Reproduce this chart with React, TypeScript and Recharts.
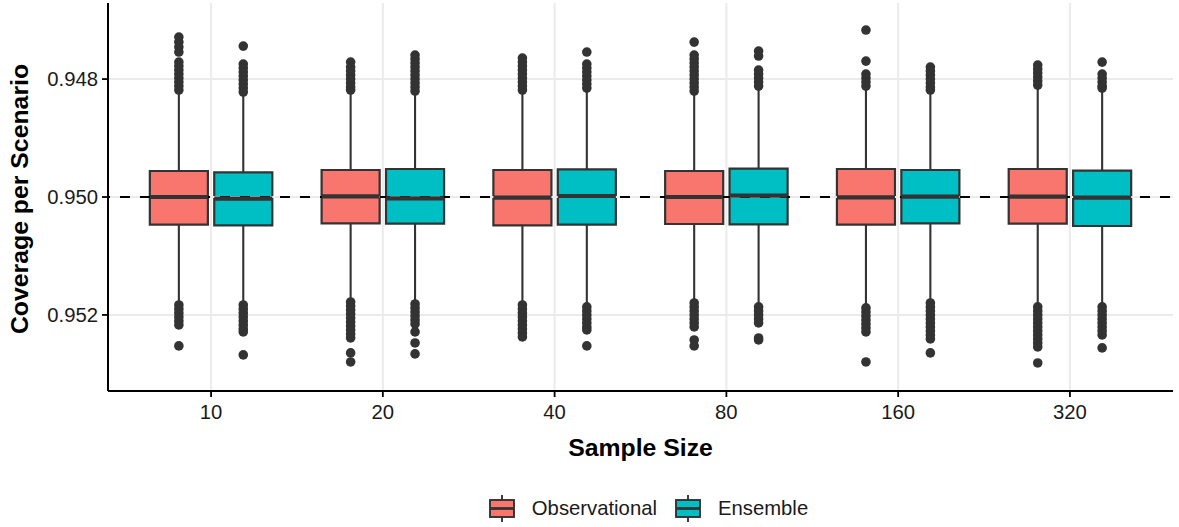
import React from "react";
import {
  ComposedChart,
  XAxis,
  YAxis,
  Scatter,
  ReferenceArea,
  ReferenceLine,
  Legend,
} from "recharts";

const sampleSizes = ["10", "20", "40", "80", "160", "320"];
const methods = ["Observational", "Ensemble"];
const fills = ["#F8766D", "#00BFC4"];
const xTicks = [1, 2, 3, 4, 5, 6];
const yTicks = [0.948, 0.95, 0.952];
const xDomain = [0.4, 6.6];
const yDomain = [0.94671, 0.95329];

// Observational
const obsWhiskerLow = [0.948237, 0.94822, 0.94822, 0.948237, 0.948153, 0.94817];
const obsQ1 = [0.949559, 0.949542, 0.949542, 0.949559, 0.949525, 0.949525];
const obsMedian = [0.95, 0.949988, 0.950012, 0.95, 0.950005, 0.949995];
const obsQ3 = [0.950469, 0.950446, 0.95048, 0.950458, 0.950469, 0.950453];
const obsWhiskerHigh = [0.951792, 0.951746, 0.951802, 0.951775, 0.951859, 0.951831];
const obsOutliers = [
  [0.947288, 0.947373, 0.947458, 0.947542, 0.947712, 0.94778, 0.947847, 0.947915, 0.947983, 0.948051, 0.948119, 0.948186,
    0.951831, 0.951898, 0.951966, 0.952034, 0.952102, 0.952169, 0.952525],
  [0.947712, 0.947797, 0.947864, 0.947932, 0.948, 0.948068, 0.948136, 0.948186,
    0.95178, 0.951847, 0.951915, 0.951983, 0.952051, 0.952119, 0.952186, 0.952254, 0.952322, 0.95239, 0.952644, 0.952797],
  [0.947644, 0.947712, 0.94778, 0.947847, 0.947915, 0.947983, 0.948051, 0.948119, 0.948186,
    0.951831, 0.951898, 0.951966, 0.952034, 0.952102, 0.952169, 0.952237, 0.952305, 0.952373],
  [0.947373, 0.947593, 0.947661, 0.947729, 0.947797, 0.947864, 0.947932, 0.948, 0.948068, 0.948136, 0.948203,
    0.951797, 0.951864, 0.951932, 0.952, 0.952068, 0.952136, 0.952203, 0.952424, 0.952525],
  [0.947169, 0.947695, 0.947915, 0.947983, 0.948051, 0.948119,
    0.951881, 0.951949, 0.952017, 0.952085, 0.952153, 0.95222, 0.952288, 0.952797],
  [0.947763, 0.947831, 0.947898, 0.947966, 0.948034, 0.948102,
    0.951864, 0.951932, 0.952, 0.952068, 0.952136, 0.952203, 0.952271, 0.952339, 0.952407, 0.952475, 0.952542, 0.952814],
];

// Ensemble
const ensWhiskerLow = [0.948271, 0.948237, 0.948186, 0.94817, 0.948203, 0.948186];
const ensQ1 = [0.949581, 0.949525, 0.949531, 0.94952, 0.949542, 0.949554];
const ensMedian = [0.950029, 0.950022, 0.949983, 0.949978, 0.949995, 0.950012];
const ensQ3 = [0.95048, 0.950453, 0.950469, 0.950463, 0.950446, 0.950492];
const ensWhiskerHigh = [0.951792, 0.951792, 0.951831, 0.951831, 0.951775, 0.951831];
const ensOutliers = [
  [0.947441, 0.947746, 0.947814, 0.947881, 0.947949, 0.948017, 0.948085, 0.948153, 0.94822,
    0.951831, 0.951898, 0.951966, 0.952034, 0.952102, 0.952169, 0.952237, 0.952288, 0.952678],
  [0.947593, 0.947661, 0.947729, 0.947797, 0.947864, 0.947932, 0.948, 0.948068, 0.948136, 0.948203,
    0.951814, 0.951881, 0.951949, 0.952017, 0.952085, 0.952153, 0.952288, 0.952475, 0.952661],
  [0.947542, 0.947746, 0.947814, 0.947881, 0.947949, 0.948017, 0.948085, 0.948153,
    0.951864, 0.951932, 0.952, 0.952068, 0.952136, 0.952203, 0.952254, 0.952525],
  [0.947525, 0.94761, 0.947847, 0.947915, 0.947983, 0.948051, 0.948119,
    0.951864, 0.951932, 0.952, 0.952068, 0.952136, 0.95239, 0.952424],
  [0.947797, 0.947864, 0.947932, 0.948, 0.948068, 0.948136, 0.948186,
    0.951797, 0.951864, 0.951932, 0.952, 0.952068, 0.952136, 0.952203, 0.952271, 0.952339, 0.952407, 0.952644],
  [0.947712, 0.947915, 0.947983, 0.948051, 0.948119, 0.948153,
    0.951864, 0.951932, 0.952, 0.952068, 0.952136, 0.952203, 0.952271, 0.952339, 0.952559],
];

const font = "'Liberation Sans', Arial, Helvetica, sans-serif";
const ink = "#333333";
const gridColor = "#EBEBEB";
const DODGE = 0.1875;
const HALF = 0.169;

type Box = {
  key: string;
  x: number;
  fill: string;
  lo: number;
  q1: number;
  med: number;
  q3: number;
  hi: number;
};

const stats = [
  { lo: obsWhiskerLow, q1: obsQ1, med: obsMedian, q3: obsQ3, hi: obsWhiskerHigh, out: obsOutliers },
  { lo: ensWhiskerLow, q1: ensQ1, med: ensMedian, q3: ensQ3, hi: ensWhiskerHigh, out: ensOutliers },
];

const boxes: Box[] = [];
const outlierPoints: { x: number; y: number }[] = [];
stats.forEach((s, m) => {
  sampleSizes.forEach((n, i) => {
    const x = i + 1 + (m === 0 ? -DODGE : DODGE);
    boxes.push({ key: `${m}-${n}`, x, fill: fills[m], lo: s.lo[i], q1: s.q1[i], med: s.med[i], q3: s.q3[i], hi: s.hi[i] });
    s.out[i].forEach((v) => outlierPoints.push({ x, y: v }));
  });
});

function LegendKey({ fill }: { fill: string }) {
  return (
    <svg width={26} height={27} style={{ display: "block" }}>
      <line x1={13} x2={13} y1={0} y2={27} stroke={ink} strokeWidth={1.9} />
      <rect x={1} y={5} width={24} height={17} fill={fill} stroke={ink} strokeWidth={1.9} />
      <line x1={1} x2={25} y1={13.5} y2={13.5} stroke={ink} strokeWidth={2.8} />
    </svg>
  );
}

function LegendContent() {
  return (
    <div
      style={{
        display: "flex",
        justifyContent: "center",
        alignItems: "center",
        height: 36,
        fontFamily: font,
        fontSize: 20.3,
        color: "#1a1a1a",
        paddingLeft: 16,
      }}
    >
      {methods.map((name, m) => (
        <div key={name} style={{ display: "flex", alignItems: "center", marginRight: m === 0 ? 18 : 0 }}>
          <LegendKey fill={fills[m]} />
          <span style={{ marginLeft: 17 }}>{name}</span>
        </div>
      ))}
    </div>
  );
}

const XTitle = (props: any) => {
  const vb = props.viewBox;
  if (!vb) return null;
  return (
    <text x={vb.x + vb.width / 2} y={vb.y + 65} textAnchor="middle" fontFamily={font} fontSize={24.8} fontWeight="bold" fill="#000">
      Sample Size
    </text>
  );
};

const YTitle = (props: any) => {
  const vb = props.viewBox;
  if (!vb) return null;
  const x = vb.x + 28;
  const y = vb.y + vb.height / 2 + 2;
  return (
    <text x={x} y={y} transform={`rotate(-90, ${x}, ${y})`} textAnchor="middle" fontFamily={font} fontSize={24.8} fontWeight="bold" fill="#000">
      Coverage per Scenario
    </text>
  );
};

export default function App() {
  return (
    <div style={{ position: "absolute", left: 0, top: 0, width: 1179, height: 527, background: "#fff" }}>
      <ComposedChart
        width={1179}
        height={527}
        margin={{ top: 3, right: 6, bottom: 1, left: 0 }}
        style={{ fontFamily: font, outline: "none" }}
        accessibilityLayer={false}
      >
        {xTicks.map((t) => (
          <ReferenceLine key={`gx-${t}`} x={t} stroke={gridColor} strokeWidth={2} />
        ))}
        {yTicks.map((t) => (
          <ReferenceLine key={`gy-${t}`} y={t} stroke={gridColor} strokeWidth={2} />
        ))}
        <XAxis
          type="number"
          dataKey="x"
          domain={xDomain}
          ticks={xTicks}
          tickFormatter={(v: number) => sampleSizes[v - 1] ?? ""}
          height={99}
          tickSize={6}
          tickMargin={8}
          axisLine={{ stroke: "#000", strokeWidth: 2 }}
          tickLine={{ stroke: "#000", strokeWidth: 1.8 }}
          tick={{ fontSize: 20.3, fill: "#1a1a1a", fontFamily: font }}
          label={<XTitle />}
        />
        <YAxis
          type="number"
          dataKey="y"
          domain={yDomain}
          reversed
          ticks={yTicks}
          tickFormatter={(v: number) => v.toFixed(3)}
          width={108}
          tickSize={6}
          tickMargin={4}
          axisLine={{ stroke: "#000", strokeWidth: 2 }}
          tickLine={{ stroke: "#000", strokeWidth: 1.8 }}
          tick={{ fontSize: 20.3, fill: "#1a1a1a", fontFamily: font }}
          label={<YTitle />}
        />
        <ReferenceLine y={0.95} stroke="#000" strokeWidth={2} strokeDasharray="10 10" strokeDashoffset={8} />
        {boxes.map((b) => (
          <ReferenceLine key={`wl-${b.key}`} segment={[{ x: b.x, y: b.lo }, { x: b.x, y: b.q1 }]} stroke={ink} strokeWidth={2.1} />
        ))}
        {boxes.map((b) => (
          <ReferenceLine key={`wh-${b.key}`} segment={[{ x: b.x, y: b.q3 }, { x: b.x, y: b.hi }]} stroke={ink} strokeWidth={2.1} />
        ))}
        {boxes.map((b) => (
          <ReferenceArea
            key={`box-${b.key}`}
            x1={b.x - HALF}
            x2={b.x + HALF}
            y1={b.q1}
            y2={b.q3}
            fill={b.fill}
            fillOpacity={1}
            stroke={ink}
            strokeWidth={2.2}
          />
        ))}
        {boxes.map((b) => (
          <ReferenceLine
            key={`med-${b.key}`}
            segment={[{ x: b.x - HALF, y: b.med }, { x: b.x + HALF, y: b.med }]}
            stroke={ink}
            strokeWidth={4.2}
          />
        ))}
        <Scatter
          data={outlierPoints}
          dataKey="y"
          isAnimationActive={false}
          legendType="none"
          shape={(p: any) => <circle cx={p.cx} cy={p.cy} r={4.8} fill={ink} />}
        />
        <Legend
          verticalAlign="bottom"
          height={36}
          content={() => <LegendContent />}
          wrapperStyle={{ left: 108, width: 1065 }}
        />
      </ComposedChart>
    </div>
  );
}
